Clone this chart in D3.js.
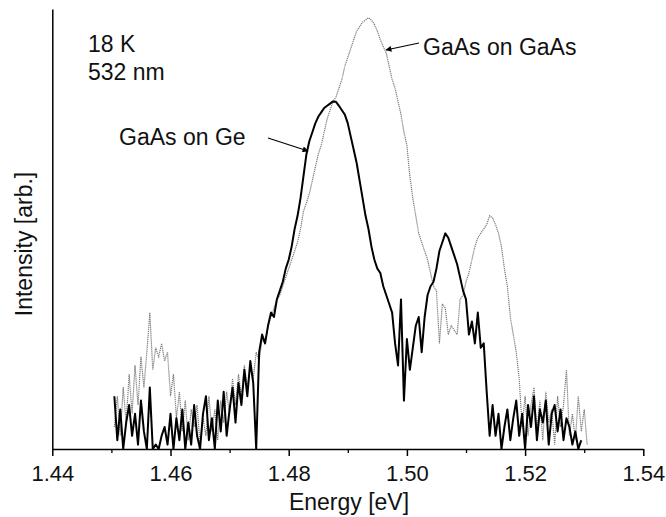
<!DOCTYPE html>
<html>
<head>
<meta charset="utf-8">
<script src="https://cdn.jsdelivr.net/npm/d3@7/dist/d3.min.js"></script>
<style>
  html, body { margin: 0; padding: 0; background: #fff; }
  svg { display: block; }
  text { font-family: "Liberation Sans", Arial, sans-serif; fill: #111; }
</style>
</head>
<body>
<svg id="chart" width="666" height="517"></svg>
<script>
// ---------------- DATA ----------------
// Energy grid: samples every 0.0005 eV
const geStart = 1.4505;      // GaAs on Ge first sample (eV)
const gaasStart = 1.4505;    // GaAs on GaAs first sample (eV)
const sampleStep = 0.0005;

// GaAs on Ge (black) intensity, arb. units, 1.4505 .. 1.5295 eV
const gaasOnGe = [
  0.12,0.02,0.09,0.00,0.06,0.10,0.03,0.08,0.01,0.11,
  0.04,0.00,0.14,0.00,0.01,0.00,0.03,0.05,0.01,0.08,
  0.00,0.07,0.02,0.09,0.00,0.06,0.01,0.10,0.03,0.00,
  0.08,0.12,0.02,0.07,0.00,0.11,0.04,0.13,0.03,0.09,
  0.14,0.06,0.15,0.10,0.18,0.12,0.20,0.15,0.00,0.22,
  0.26,0.24,0.28,0.31,0.30,0.34,0.36,0.38,0.41,0.43,
  0.46,0.50,0.53,0.57,0.62,0.67,0.70,0.72,0.74,0.755,
  0.765,0.775,0.78,0.785,0.79,0.789,0.78,0.77,0.76,0.74,
  0.71,0.68,0.65,0.61,0.57,0.53,0.50,0.46,0.43,0.41,
  0.40,0.37,0.35,0.33,0.31,0.24,0.19,0.34,0.11,0.25,
  0.18,0.23,0.28,0.30,0.22,0.30,0.35,0.37,0.38,0.41,
  0.45,0.47,0.49,0.48,0.46,0.44,0.42,0.39,0.36,0.34,
  0.26,0.29,0.24,0.31,0.23,0.24,0.13,0.03,0.10,0.03,
  0.08,0.00,0.05,0.09,0.02,0.07,0.11,0.03,0.08,0.00,
  0.10,0.05,0.12,0.02,0.09,0.06,0.11,0.01,0.08,0.10,
  0.04,0.09,0.02,0.07,0.05,0.01,0.04,0.00,0.02
];

// GaAs on GaAs (grey, dotted) intensity, arb. units, 1.4505 .. 1.5305 eV
const gaasOnGaas = [
  0.05,0.12,0.03,0.14,0.06,0.17,0.08,0.19,0.10,0.21,
  0.14,0.22,0.31,0.18,0.23,0.21,0.24,0.20,0.22,0.12,
  0.17,0.07,0.13,0.04,0.11,0.02,0.09,0.05,0.10,0.01,
  0.07,0.03,0.12,0.04,0.09,0.02,0.11,0.06,0.13,0.08,
  0.16,0.10,0.17,0.12,0.19,0.14,0.18,0.16,0.22,0.20,
  0.25,0.24,0.28,0.30,0.32,0.34,0.35,0.37,0.39,0.41,
  0.43,0.45,0.47,0.50,0.54,0.56,0.58,0.61,0.64,0.67,
  0.69,0.72,0.75,0.77,0.79,0.80,0.82,0.84,0.87,0.89,
  0.91,0.93,0.95,0.96,0.97,0.975,0.98,0.975,0.965,0.95,
  0.93,0.915,0.90,0.87,0.84,0.82,0.79,0.76,0.72,0.69,
  0.62,0.57,0.53,0.49,0.47,0.45,0.43,0.40,0.37,0.36,
  0.24,0.33,0.32,0.26,0.28,0.27,0.26,0.34,0.35,0.38,
  0.40,0.43,0.46,0.48,0.49,0.50,0.51,0.53,0.525,0.51,
  0.49,0.46,0.41,0.37,0.30,0.26,0.22,0.16,0.05,0.12,
  0.03,0.10,0.14,0.04,0.11,0.02,0.13,0.06,0.09,0.01,
  0.12,0.05,0.10,0.18,0.03,0.08,0.02,0.12,0.04,0.09,
  0.01
];

const xMajorTicks = [1.44, 1.46, 1.48, 1.50, 1.52, 1.54];
const xMinorTicks = [1.45, 1.47, 1.49, 1.51, 1.53];
const xDomain = [1.44, 1.54];
const yDomain = [0, 1];

const labels = {
  xTitle: "Energy [eV]",
  yTitle: "Intensity [arb.]",
  cond1: "18 K",
  cond2: "532 nm",
  seriesGaas: "GaAs on GaAs",
  seriesGe: "GaAs on Ge"
};

// ---------------- CHART ----------------
const svg = d3.select("#chart");
const x = d3.scaleLinear().domain(xDomain).range([52.3, 643.3]);
const y = d3.scaleLinear().domain(yDomain).range([449, 9]);

const toPts = (arr, start) => arr.map((v, i) => [start + i * sampleStep, v]);
const line = d3.line().x(d => x(d[0])).y(d => y(d[1]));

// GaAs on GaAs (grey dotted)
svg.append("path")
  .datum(toPts(gaasOnGaas, gaasStart))
  .attr("d", line)
  .attr("fill", "none")
  .attr("stroke", "#7a7a7a")
  .attr("stroke-width", 1.2)
  .attr("stroke-dasharray", "1.2,0.8");

// GaAs on Ge (black)
svg.append("path")
  .datum(toPts(gaasOnGe, geStart))
  .attr("d", line)
  .attr("fill", "none")
  .attr("stroke", "#000")
  .attr("stroke-width", 2)
  .attr("stroke-linejoin", "round");

// x axis
const xAxis = d3.axisBottom(x)
  .tickValues(xMajorTicks)
  .tickFormat(d3.format(".2f"))
  .tickSizeInner(7)
  .tickSizeOuter(0)
  .tickPadding(9);
const gx = svg.append("g").attr("transform", "translate(0,449)").call(xAxis);
gx.select(".domain").attr("stroke", "#000").attr("stroke-width", 1.5);
gx.selectAll(".tick line").attr("stroke", "#000").attr("stroke-width", 1.5);
gx.selectAll(".tick text")
  .attr("font-size", 22)
  .attr("font-family", "'Liberation Sans', Arial, sans-serif")
  .attr("fill", "#111");

const xMinor = d3.axisBottom(x).tickValues(xMinorTicks).tickFormat("").tickSizeInner(4).tickSizeOuter(0);
const gxm = svg.append("g").attr("transform", "translate(0,449)").call(xMinor);
gxm.select(".domain").remove();
gxm.selectAll(".tick line").attr("stroke", "#000").attr("stroke-width", 1.3);

// y axis (no ticks)
const yAxis = d3.axisLeft(y).tickValues([]).tickSizeOuter(0);
const gy = svg.append("g").attr("transform", "translate(52.3,0)").call(yAxis);
gy.select(".domain").attr("stroke", "#000").attr("stroke-width", 1.5);

// axis titles
svg.append("text")
  .attr("x", 349).attr("y", 510)
  .attr("text-anchor", "middle")
  .attr("font-size", 23)
  .text(labels.xTitle);

svg.append("text")
  .attr("transform", "translate(32,244) rotate(-90)")
  .attr("text-anchor", "middle")
  .attr("font-size", 23)
  .text(labels.yTitle);

// conditions
svg.append("text").attr("x", 88).attr("y", 52).attr("font-size", 23).text(labels.cond1);
svg.append("text").attr("x", 88).attr("y", 80).attr("font-size", 23).text(labels.cond2);

// annotations
const defs = svg.append("defs");
defs.append("marker")
  .attr("id", "arrow")
  .attr("viewBox", "0 0 10 10")
  .attr("refX", 9).attr("refY", 5)
  .attr("markerWidth", 7).attr("markerHeight", 5)
  .attr("orient", "auto")
  .append("path").attr("d", "M0,0 L10,5 L0,10 z").attr("fill", "#000");

svg.append("text").attr("x", 423).attr("y", 55).attr("font-size", 23).text(labels.seriesGaas);
svg.append("line")
  .attr("x1", 419).attr("y1", 43).attr("x2", 386).attr("y2", 50)
  .attr("stroke", "#000").attr("stroke-width", 1.2)
  .attr("marker-end", "url(#arrow)");

svg.append("text").attr("x", 119).attr("y", 145).attr("font-size", 23).text(labels.seriesGe);
svg.append("line")
  .attr("x1", 268).attr("y1", 138).attr("x2", 308).attr("y2", 151)
  .attr("stroke", "#000").attr("stroke-width", 1.2)
  .attr("marker-end", "url(#arrow)");
</script>
</body>
</html>
